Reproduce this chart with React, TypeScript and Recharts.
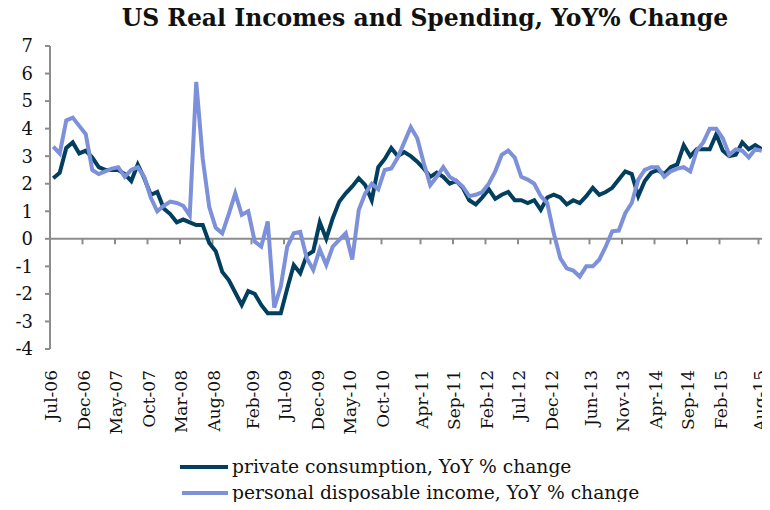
import React from 'react'
import { LineChart, Line, XAxis, YAxis, ReferenceLine } from 'recharts'

// months counted from Jul-06, labels every ~5 months like the original
const tickLabels = ['Jul-06', 'Dec-06', 'May-07', 'Oct-07', 'Mar-08', 'Aug-08', 'Feb-09', 'Jul-09', 'Dec-09', 'May-10', 'Oct-10',
  'Apr-11', 'Sep-11', 'Feb-12', 'Jul-12', 'Dec-12', 'Jun-13', 'Nov-13', 'Apr-14', 'Sep-14', 'Feb-15', 'Aug-15']
const tickMonths = [0, 5, 10, 15, 20, 25, 31, 36, 41, 46, 51, 57, 62, 67, 72, 77, 83, 88, 93, 98, 103, 109]

// private consumption, YoY % change (Jul-06 .. Aug-15)
const consumption = [
  2.2, 2.4, 3.3, 3.5, 3.1, 3.2, 2.95, 2.6, 2.5, 2.5,
  2.5, 2.35, 2.1, 2.7, 2.2, 1.6, 1.7, 1.1, 0.9, 0.6,
  0.7, 0.6, 0.5, 0.5, -0.15, -0.45, -1.2, -1.5, -1.95, -2.4,
  -1.9, -2.0, -2.4, -2.7, -2.7, -2.7, -1.8, -0.95, -1.25, -0.6,
  -0.45, 0.6, 0.0, 0.75, 1.35, 1.65, 1.9, 2.2, 1.95, 1.4,
  2.6, 2.9, 3.3, 3.0, 3.15, 3.0, 2.8, 2.55, 2.25, 2.4,
  2.25, 2.0, 2.1, 1.85, 1.4, 1.25, 1.5, 1.8, 1.45, 1.6,
  1.7, 1.4, 1.4, 1.3, 1.4, 1.05, 1.5, 1.6, 1.5, 1.25,
  1.4, 1.3, 1.55, 1.85, 1.6, 1.7, 1.85, 2.15, 2.45, 2.35,
  1.55, 2.1, 2.4, 2.5, 2.35, 2.6, 2.7, 3.4, 3.0, 3.25,
  3.25, 3.25, 3.8, 3.2, 3.0, 3.05, 3.5, 3.25, 3.4, 3.25,
]

// personal disposable income, YoY % change
const income = [
  3.35, 3.1, 4.3, 4.4, 4.1, 3.8, 2.5, 2.35, 2.45, 2.55,
  2.6, 2.25, 2.5, 2.6, 2.25, 1.5, 1.0, 1.2, 1.35, 1.3,
  1.2, 0.85, 5.7, 2.9, 1.15, 0.4, 0.2, 0.9, 1.65, 0.87,
  1.0, -0.1, -0.28, 0.63, -2.5, -1.73, -0.28, 0.2, 0.25, -0.7,
  -1.13, -0.38, -0.95, -0.28, -0.04, 0.2, -0.75, 1.05, 1.65, 2.0,
  1.8, 2.5, 2.55, 2.95, 3.5, 4.05, 3.65, 2.75, 1.95, 2.25,
  2.6, 2.25, 2.1, 1.9, 1.55, 1.6, 1.7, 2.0, 2.45, 3.05,
  3.2, 2.95, 2.25, 2.15, 2.0, 1.55, 1.3, 0.2, -0.7, -1.07,
  -1.15, -1.37, -1.0, -1.0, -0.76, -0.28, 0.27, 0.3, 0.93, 1.3,
  2.15, 2.5, 2.6, 2.6, 2.25, 2.45, 2.55, 2.6, 2.45, 3.2,
  3.5, 4.0, 4.0, 3.65, 3.05, 3.25, 3.2, 2.95, 3.25, 3.2,
]

const yTicks = [-4, -3, -2, -1, 0, 1, 2, 3, 4, 5, 6, 7]

const DARK = '#023f5e'
const LIGHT = '#7d90da'
const GRID = '#8c8c8c'
const FONT = '"DejaVu Serif", serif'

// values are monthly, plotted mid-month
const data = consumption.map((c, i) => ({ m: i + 0.5, consumption: c, income: income[i] }))

const MonthTick = (props: any) => {
  const { x, y, payload } = props
  const idx = tickMonths.indexOf(payload.value)
  const tx = x + 7
  const ty = y + 13
  return (
    <text x={tx} y={ty} transform={`rotate(-90, ${tx}, ${ty})`} textAnchor="end"
      fontFamily={FONT} fontSize={17} fill="#111">
      {tickLabels[idx]}
    </text>
  )
}

export default function App() {
  return (
    <div style={{ position: 'relative', width: 770, height: 510, margin: -8, background: '#fff', fontFamily: FONT }}>
      <LineChart width={770} height={510} data={data} margin={{ top: 46, right: 5, left: 0, bottom: 81 }}
        style={{ overflow: 'visible' }}>
        <XAxis dataKey="m" type="number" domain={[0, 110]} ticks={tickMonths} interval={0}
          axisLine={false} tickLine={false} tick={<MonthTick />} height={80} />
        <YAxis domain={[-4, 7]} ticks={yTicks} interval={0} width={50}
          axisLine={{ stroke: GRID, strokeWidth: 2 }} tickLine={{ stroke: GRID, strokeWidth: 2 }} tickSize={5}
          tick={{ fontFamily: FONT, fontSize: 18, fill: '#111' }} tickMargin={12} />
        <ReferenceLine y={0} stroke={GRID} strokeWidth={2} />
        {tickMonths.map(t => (
          <ReferenceLine key={t} segment={[{ x: t, y: 0 }, { x: t, y: -0.2 }]} stroke={GRID} strokeWidth={2} />
        ))}
        <Line type="linear" dataKey="consumption" stroke={DARK} strokeWidth={4} dot={false} isAnimationActive={false} />
        <Line type="linear" dataKey="income" stroke={LIGHT} strokeWidth={4} dot={false} isAnimationActive={false} />
      </LineChart>
      <div style={{ position: 'absolute', top: 3, left: 0, width: 850, textAlign: 'center', lineHeight: '30px',
        fontSize: 23.5, fontWeight: 'bold', color: '#111' }}>
        US Real Incomes and Spending, YoY% Change
      </div>
      <div style={{ position: 'absolute', left: 180, top: 454, fontSize: 18.7, color: '#111', lineHeight: '26px' }}>
        <div style={{ display: 'flex', alignItems: 'center' }}>
          <span style={{ display: 'inline-block', width: 48, height: 4, background: DARK, marginRight: 4 }} />
          private consumption, YoY % change
        </div>
        <div style={{ display: 'flex', alignItems: 'center' }}>
          <span style={{ display: 'inline-block', width: 46, height: 4, background: LIGHT, marginLeft: 2, marginRight: 4 }} />
          personal disposable income, YoY % change
        </div>
      </div>
    </div>
  )
}
